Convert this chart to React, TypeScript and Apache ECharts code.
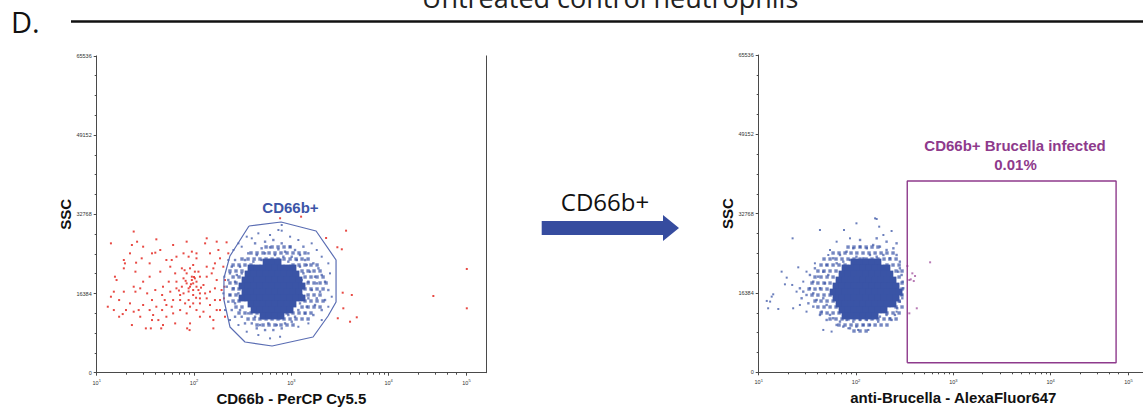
import React, { useEffect, useRef } from "react";
import * as echarts from "echarts";

// ---------- axes ----------
const X_MIN = 10;
const X_MAX = 100000;
const Y_MAX = 65536;
const Y_STEP = 16384;
const xTickValues = [10, 100, 1000, 10000, 63000];
const xTickExponents = ["1", "2", "3", "4", "5"];
const xMinorTicks = [
  20, 30, 40, 50, 60, 70, 80, 90,
  200, 300, 400, 500, 600, 700, 800, 900,
  2000, 3000, 4000, 5000, 6000, 7000, 8000, 9000,
  20000, 30000, 40000, 50000,
];

// ---------- texts ----------
const panelLabel = "D.";
const headerTitle = "Untreated control neutrophils";
const arrowLabel = "CD66b+";
const leftXTitle = "CD66b - PerCP Cy5.5";
const rightXTitle = "anti-Brucella - AlexaFluor647";
const yTitle = "SSC";
const leftGateLabel = "CD66b+";
const rightGateLabel = "CD66b+ Brucella infected";
const rightGatePercent = "0.01%";

// ---------- left plot: CD66b gate (polygon vertices) ----------
const cd66bGate: number[][] = [
  [367, 30350], [784, 31180], [1795, 29320], [2879, 23320], [2879, 14630],
  [2383, 11730], [1671, 7390], [634, 5520], [334, 6350], [234, 9460],
  [203, 15040], [203, 19590], [234, 24150], [367, 30350],
];

// ---------- left plot: ungated (red) events ----------
const leftRedEvents: number[][] = [
  [24, 29200], [14, 26760], [41, 27590], [23, 26420], [26, 27100], [13, 13650], [16, 19170], [17, 11580],
  [18.5, 12130], [23, 9860], [32, 9170], [36, 9170], [46, 9170], [85, 9170], [90, 8820], [158, 9170],
  [37, 10890], [19.5, 22620], [25, 20900], [19, 21590], [25.4, 22760], [29, 23660], [35, 22620], [40, 24830],
  [45, 25380], [37, 24690], [52, 23310], [59, 23310], [57, 21930], [45, 20900], [35, 19860], [30, 18830],
  [28, 17450], [24, 17790], [25, 16760], [19, 16760], [15, 16760], [33, 16410], [37, 15030], [41, 13650],
  [47, 12960], [52, 14000], [61, 15030], [72, 16070], [75, 17790], [66, 18830], [78, 19520], [84, 20550],
  [91, 21590], [98, 22280], [102, 20900], [95, 19170], [106, 18830], [115, 19860], [125, 18140], [115, 16410],
  [98, 16070], [88, 15030], [81, 14340], [91, 13650], [115, 14340], [135, 15380], [146, 16760], [164, 17450],
  [171, 19170], [152, 20550], [135, 21930], [164, 22620], [185, 23660], [178, 25380], [146, 24690], [130, 26760],
  [106, 24690], [95, 25040], [78, 24690], [66, 24000], [171, 27110], [216, 26970], [225, 24690], [200, 21930],
  [208, 19170], [192, 17100], [185, 15030], [171, 12960], [146, 11580], [125, 12620], [106, 12960], [84, 12270],
  [72, 12960], [61, 12270], [52, 11580], [43, 10890], [35, 12960], [30, 14000], [27, 12960], [22, 14340],
  [20, 12960], [17, 15030], [15, 12960], [14, 15720], [15.4, 19860], [19, 23310], [22, 24690], [30, 26070],
  [61, 26420], [84, 27110], [135, 27800], [106, 23660], [88, 24000], [75, 21590], [64, 20550], [55, 18830],
  [48, 17790], [40, 17100], [47, 16070], [57, 16760], [66, 17450], [78, 16410], [88, 17450], [98, 18480],
  [111, 17100], [130, 16410], [146, 14000], [164, 15030], [185, 12960], [205, 17790], [203, 15380], [208, 11580],
  [158, 10890], [91, 10200], [64, 10200], [48, 9860], [28, 11580], [24, 12620], [38, 11930], [115, 11580],
  [135, 19860], [158, 21590], [84, 18480], [72, 15030], [59, 13650], [50, 15030], [98, 14340], [115, 15380],
  [95, 19860], [111, 20900], [102, 19520], [91, 17790], [106, 17790], [98, 17100],
  [82, 19000], [100, 19800], [88, 16800], [105, 15500], [70, 17000], [93, 18300], [80, 21200], [118, 17600],
  [766, 31950], [1259, 32280], [3650, 29380], [2970, 25950], [3300, 25530], [2275, 27870], [3370, 16550],
  [4180, 16080], [3420, 13320], [4010, 10550], [4700, 11460], [3000, 11260], [28770, 15870], [63500, 21460],
  [63500, 13320],
];

// ---------- left plot: CD66b+ (blue) events ----------
// dense core, read row by row: SSC level and the CD66b intensities along it
const leftDenseRows: { ssc: number; cd66b: number[] }[] = [
  { ssc: 22900, cd66b: [550, 634, 730] },
  { ssc: 21660, cd66b: [385, 444, 512, 590, 679, 783, 903, 1040] },
  { ssc: 20420, cd66b: [359, 414, 476, 550, 634, 730, 841, 970, 1117] },
  { ssc: 19180, cd66b: [334, 385, 444, 512, 590, 679, 783, 903, 1040, 1199] },
  { ssc: 17940, cd66b: [311, 359, 414, 476, 550, 634, 730, 841, 970, 1117, 1288] },
  { ssc: 16700, cd66b: [334, 385, 444, 512, 590, 679, 783, 903, 1040, 1199] },
  { ssc: 15450, cd66b: [311, 359, 414, 476, 550, 634, 730, 841, 970, 1117, 1288] },
  { ssc: 14210, cd66b: [385, 444, 512, 590, 679, 783, 903, 1040] },
  { ssc: 12970, cd66b: [414, 476, 550, 634, 730, 841, 970] },
  { ssc: 11730, cd66b: [512, 590, 679, 783] },
];
// medium-density halo around the core
const leftHaloRows: { ssc: number; cd66b: number[] }[] = [
  { ssc: 26010, cd66b: [550, 634, 730, 841, 970] },
  { ssc: 24770, cd66b: [385, 444, 512, 590, 679, 783, 903, 1040, 1199, 1383] },
  { ssc: 23520, cd66b: [311, 359, 414, 476, 550, 634, 730, 841, 970, 1117, 1288, 1486] },
  { ssc: 22280, cd66b: [252, 290, 334, 385, 1040, 1199, 1383, 1592, 1837] },
  { ssc: 21040, cd66b: [234, 270, 311, 1288, 1486, 1710, 1972] },
  { ssc: 19800, cd66b: [252, 290, 1383, 1592, 1837, 2118] },
  { ssc: 18560, cd66b: [234, 270, 1486, 1710, 1972, 2275] },
  { ssc: 17320, cd66b: [252, 290, 1383, 1592, 1837, 2118] },
  { ssc: 16080, cd66b: [234, 270, 1486, 1710, 1972] },
  { ssc: 14830, cd66b: [252, 290, 1383, 1592, 1837, 2118] },
  { ssc: 13590, cd66b: [270, 311, 1288, 1486, 1710, 1972] },
  { ssc: 12350, cd66b: [290, 334, 385, 444, 903, 1040, 1199, 1383, 1592] },
  { ssc: 11110, cd66b: [359, 414, 476, 550, 634, 730, 841, 970, 1117, 1288, 1486] },
  { ssc: 9870, cd66b: [444, 512, 590, 679, 783, 903, 1040] },
];
const leftBlueMid: number[][] = [
  [424, 26760], [537, 27100], [653, 27450], [796, 26760], [971, 26070], [495, 25730], [604, 25930], [736, 25520],
  [861, 25040], [1091, 25380], [361, 24690], [441, 24350], [537, 24690], [679, 24350], [828, 24000], [1009, 24000],
  [1227, 24350], [334, 23310], [407, 22970], [495, 23310], [628, 22970], [766, 23310], [931, 22970], [1135, 23310],
  [1384, 23310], [1496, 24690], [1330, 26070],
  [264, 23310], [244, 21930], [297, 21930], [234, 20550], [275, 20210], [225, 19170], [264, 18830], [309, 20550],
  [217, 17790], [254, 17450], [286, 16410], [234, 16070], [225, 14690], [264, 14340], [297, 12960], [244, 12960],
  [264, 11580], [309, 11580], [334, 10200],
  [1227, 21930], [1439, 22280], [1683, 22620], [1897, 21590], [1330, 20550], [1556, 20900], [1750, 19860], [2051, 20210],
  [1276, 19170], [1496, 18830], [1824, 18480], [2218, 18830], [1330, 17450], [1618, 17100], [1972, 16760], [2399, 17100],
  [1276, 16070], [1496, 15380], [1824, 15380], [2218, 15030], [1227, 14340], [1439, 13650], [1750, 14000], [2051, 12960],
  [1180, 12960], [1384, 12270], [1683, 11930], [1091, 11580],
  [361, 12270], [424, 11580], [516, 11240], [628, 11580], [766, 11240], [931, 11930], [392, 10200], [476, 9860],
  [581, 10200], [708, 9860], [861, 10200], [1009, 10550], [537, 8820], [653, 8820], [796, 9170], [441, 9170],
];
const leftBlueSparse: number[][] = [
  [286, 26760], [348, 28140], [458, 28830], [736, 29520], [796, 29380], [971, 28140], [1180, 27450], [1618, 26760],
  [1824, 25380], [2051, 24000], [2399, 22620], [2495, 20550], [2600, 15720], [2399, 13650], [2051, 10890], [1496, 10200],
  [1180, 9510], [766, 7440], [604, 7100], [458, 7790], [348, 8480], [286, 9860], [234, 10890], [208, 12960],
  [200, 16410], [205, 19860], [225, 23310], [254, 25380], [309, 26070], [392, 27800], [604, 28490], [796, 30560],
];

// ---------- right plot: infected gate (rectangle corners) ----------
const brucellaGate: number[][] = [
  [336, 1980], [47000, 1980], [47000, 39500], [336, 39500], [336, 1980],
];

// ---------- right plot: CD66b+ events on anti-Brucella ----------
const rightDenseRows: { ssc: number; brucella: number[] }[] = [
  { ssc: 22780, brucella: [95.3, 110, 127, 146, 168] },
  { ssc: 21540, brucella: [77.1, 88.9, 102, 118, 136, 157, 181, 208] },
  { ssc: 20300, brucella: [71.8, 82.8, 95.3, 110, 127, 146, 168, 194, 223] },
  { ssc: 19060, brucella: [66.9, 77.1, 88.9, 102, 118, 136, 157, 181, 208, 240] },
  { ssc: 17820, brucella: [62.3, 71.8, 82.8, 95.3, 110, 127, 146, 168, 194, 223, 258] },
  { ssc: 16580, brucella: [58.1, 66.9, 77.1, 88.9, 102, 118, 136, 157, 181, 208, 240, 277] },
  { ssc: 15340, brucella: [62.3, 71.8, 82.8, 95.3, 110, 127, 146, 168, 194, 223, 258] },
  { ssc: 14110, brucella: [66.9, 77.1, 88.9, 102, 118, 136, 157, 181, 208, 240] },
  { ssc: 12870, brucella: [71.8, 82.8, 95.3, 110, 127, 146, 168, 194] },
  { ssc: 11630, brucella: [77.1, 88.9, 102, 118, 136, 157] },
];
const rightHaloRows: { ssc: number; brucella: number[] }[] = [
  { ssc: 25870, brucella: [82.8, 95.3, 110, 127, 146, 168] },
  { ssc: 24640, brucella: [58.1, 66.9, 77.1, 88.9, 102, 118, 136, 157, 181, 208, 240] },
  { ssc: 23400, brucella: [46.9, 54.1, 62.3, 71.8, 82.8, 95.3, 110, 127, 146, 168, 194, 223, 258] },
  { ssc: 22160, brucella: [43.7, 50.4, 58.1, 66.9, 77.1, 208, 240, 277] },
  { ssc: 20920, brucella: [40.6, 46.9, 54.1, 62.3, 258, 297] },
  { ssc: 19680, brucella: [37.9, 43.7, 50.4, 58.1, 277] },
  { ssc: 18440, brucella: [35.3, 40.6, 46.9, 54.1, 297] },
  { ssc: 17200, brucella: [32.9, 37.9, 43.7, 50.4, 297] },
  { ssc: 15960, brucella: [35.3, 40.6, 46.9, 54.1, 297] },
  { ssc: 14720, brucella: [37.9, 43.7, 50.4, 58.1, 277] },
  { ssc: 13490, brucella: [40.6, 46.9, 54.1, 62.3, 258, 297] },
  { ssc: 12250, brucella: [43.7, 50.4, 58.1, 66.9, 77.1, 208, 240, 277] },
  { ssc: 11010, brucella: [54.1, 62.3, 71.8, 82.8, 95.3, 110, 127, 146, 168, 194, 223, 258] },
  { ssc: 9770, brucella: [66.9, 77.1, 88.9, 102, 118, 136, 157, 181, 208] },
  { ssc: 8530, brucella: [95.3, 110, 127] },
];
const rightBlueMid: number[][] = [
  [68.4, 24230], [80, 24920], [93.8, 25610], [110, 25950], [129, 25610], [150, 26290], [176, 25950], [206, 25260],
  [242, 25610], [261, 24230], [223, 23540], [191, 24230], [163, 23880], [139, 24230], [119, 23540], [101, 23880],
  [86.7, 23200], [74, 22850], [63.2, 22510], [58.3, 23540], [282, 22850], [206, 26980], [163, 27670], [110, 27330],
  [261, 26640],
  [49.9, 22170], [46.1, 20790], [40.9, 19760], [36.4, 18730], [33.6, 17350], [31, 15970], [36.4, 16320], [42.6, 17350],
  [48, 18380], [51.9, 20100], [39.4, 14940], [46.1, 15290], [49.9, 13910], [44.4, 12530], [36.4, 13570], [32.4, 14250],
  [28.7, 16660], [33.6, 20100], [37.8, 21480], [54, 11850], [49.9, 10810], [42.6, 11850], [26.5, 17350], [27.6, 15290],
  [282, 21480], [294, 20100], [301, 18730], [306, 17350], [294, 15970], [282, 14600], [265, 13220], [251, 11850],
  [232, 10810], [272, 20790], [299, 15290],
  [58.3, 11160], [68.4, 10470], [80, 10810], [93.8, 10470], [110, 10810], [129, 10810], [150, 11160], [176, 11500],
  [206, 11850], [74, 9440], [86.7, 9090], [101, 9440], [119, 9780], [139, 9780], [63.2, 9780], [169, 10470],
];
const rightBlueSparse: number[][] = [
  [22.3, 27670], [42.6, 29390], [75.2, 29390], [101, 30770], [157, 31800], [163, 31660], [173, 30080], [232, 29180],
  [191, 28360], [25.5, 21680], [17.2, 20790], [19.4, 19550], [18.6, 18170], [22.1, 18040], [15.9, 13080], [13.1, 14600],
  [12.5, 13220], [12.1, 14740], [14.1, 16110], [13.6, 15630], [22.6, 13220], [31, 12530], [46.1, 8750], [56.1, 8410],
  [83.4, 9090], [105, 8750], [134, 8750], [223, 11160], [261, 12530], [51.9, 24230], [37.8, 22510], [31, 20790],
  [28.7, 18730], [24.5, 16660], [26.5, 13910], [54, 25260], [86.7, 27670], [63.2, 26980],
];
const rightInfectedEvents: number[][] = [
  [337, 21950], [379, 20440], [353, 19060], [392, 18850], [365, 19200], [577, 22720], [421, 13220], [353, 12180], [404, 19890],
];

// ---------- styling ----------
const ARIAL = "'Liberation Sans', Arial, Helvetica, sans-serif";
const MYRIAD = "'Open Sans', 'Noto Sans', sans-serif";
const AXIS_COLOR = "#4a4a4a";
const BLUE = "#3a54a6";
const RED = "#e5352f";
const PURPLE = "#8e3a8c";
const GATE_BLUE = "#5a6db3";

const LEFT_GRID = { left: 96.7, top: 55.9, width: 389.3, height: 316.8 };
const RIGHT_GRID = { left: 758.7, top: 55, width: 389.3, height: 317.3 };

function rowsToPoints(rows: { ssc: number; [k: string]: any }[], key: string): number[][] {
  const out: number[][] = [];
  rows.forEach((r) => (r[key] as number[]).forEach((x) => out.push([x, r.ssc])));
  return out;
}

function nearestExponent(v: number): string {
  let best = 0;
  for (let i = 1; i < xTickValues.length; i++) {
    if (Math.abs(Math.log10(v / xTickValues[i])) < Math.abs(Math.log10(v / xTickValues[best]))) best = i;
  }
  return xTickExponents[best];
}

function mainXAxis(gridIndex: number, name: string) {
  return {
    type: "log",
    logBase: 10,
    gridIndex,
    min: X_MIN,
    max: X_MAX,
    position: "bottom",
    name,
    nameLocation: "middle",
    nameGap: 15,
    nameTextStyle: { fontFamily: ARIAL, fontWeight: "bold", fontSize: 15, color: "#111" },
    axisLine: { show: true, onZero: false, lineStyle: { color: AXIS_COLOR, width: 1 } },
    axisTick: { show: true, length: 3, customValues: xTickValues, lineStyle: { color: AXIS_COLOR } },
    axisLabel: {
      show: true,
      customValues: xTickValues,
      margin: 6,
      fontSize: 5.5,
      color: "#333",
      fontFamily: ARIAL,
      formatter: (v: number) => "10{s|" + nearestExponent(v) + "}",
      rich: { s: { fontSize: 4, color: "#333", fontFamily: ARIAL, padding: [0, 0, 4, 0] } },
    },
    splitLine: { show: false },
  };
}

function minorXAxis(gridIndex: number) {
  return {
    type: "log",
    logBase: 10,
    gridIndex,
    min: X_MIN,
    max: X_MAX,
    position: "bottom",
    axisLine: { show: false, onZero: false },
    axisTick: { show: true, length: 2, customValues: xMinorTicks, lineStyle: { color: AXIS_COLOR } },
    axisLabel: { show: false },
    splitLine: { show: false },
  };
}

function mainYAxis(gridIndex: number) {
  return {
    type: "value",
    gridIndex,
    min: 0,
    max: Y_MAX,
    interval: Y_STEP,
    position: "left",
    name: yTitle,
    nameLocation: "middle",
    nameGap: 23,
    nameRotate: 90,
    nameTextStyle: { fontFamily: ARIAL, fontWeight: "bold", fontSize: 15, color: "#111" },
    axisLine: { show: true, onZero: false, lineStyle: { color: AXIS_COLOR, width: 1 } },
    axisTick: { show: true, length: 3, lineStyle: { color: AXIS_COLOR } },
    minorTick: { show: true, splitNumber: 4, length: 2, lineStyle: { color: AXIS_COLOR } },
    axisLabel: { fontSize: 5.5, color: "#333", margin: 5, fontFamily: ARIAL, formatter: (v: number) => String(v) },
    splitLine: { show: false },
  };
}

function borderYAxis(gridIndex: number) {
  return {
    type: "value",
    gridIndex,
    min: 0,
    max: Y_MAX,
    position: "right",
    axisLine: { show: true, onZero: false, lineStyle: { color: AXIS_COLOR, width: 1 } },
    axisTick: { show: false },
    axisLabel: { show: false },
    splitLine: { show: false },
  };
}

function dots(data: number[][], xi: number, yi: number, color: string, size: number, opacity: number) {
  return {
    type: "scatter",
    xAxisIndex: xi,
    yAxisIndex: yi,
    data,
    symbol: "rect",
    symbolSize: size,
    silent: true,
    itemStyle: { color, opacity },
  };
}

function gateLine(data: number[][], xi: number, yi: number, color: string, width: number) {
  return {
    type: "line",
    xAxisIndex: xi,
    yAxisIndex: yi,
    data,
    symbol: "none",
    silent: true,
    z: 5,
    lineStyle: { color, width },
  };
}

export default function App() {
  const ref = useRef<HTMLDivElement>(null);

  useEffect(() => {
    if (!ref.current) return;
    const chart = echarts.init(ref.current, null, { renderer: "svg" });
    const option: any = {
      animation: false,
      backgroundColor: "#ffffff",
      grid: [
        { ...LEFT_GRID, containLabel: false, outerBoundsMode: "none" },
        { ...RIGHT_GRID, containLabel: false, outerBoundsMode: "none" },
      ],
      xAxis: [mainXAxis(0, leftXTitle), minorXAxis(0), mainXAxis(1, rightXTitle), minorXAxis(1)],
      yAxis: [mainYAxis(0), borderYAxis(0), mainYAxis(1), borderYAxis(1)],
      series: [
        dots(leftRedEvents, 0, 0, RED, 2, 0.9),
        dots(rowsToPoints(leftHaloRows, "cd66b"), 0, 0, BLUE, 3.4, 0.7),
        dots(leftBlueMid, 0, 0, BLUE, 2.4, 0.7),
        dots(leftBlueSparse, 0, 0, BLUE, 2, 0.75),
        dots(rowsToPoints(leftDenseRows, "cd66b"), 0, 0, BLUE, 6.8, 1),
        gateLine(cd66bGate, 0, 0, GATE_BLUE, 1.2),
        dots(rowsToPoints(rightHaloRows, "brucella"), 2, 2, BLUE, 3.4, 0.7),
        dots(rightBlueMid, 2, 2, BLUE, 2.4, 0.7),
        dots(rightBlueSparse, 2, 2, BLUE, 2, 0.75),
        dots(rowsToPoints(rightDenseRows, "brucella"), 2, 2, BLUE, 6.8, 1),
        dots(rightInfectedEvents, 2, 2, "#a65aa2", 2, 0.8),
        gateLine(brucellaGate, 2, 2, PURPLE, 1.4),
      ],
      graphic: [
        {
          type: "text", x: 610, y: -3,
          style: { text: headerTitle, font: `27px ${MYRIAD}`, fill: "#222", textAlign: "center", textVerticalAlign: "middle" },
        },
        {
          type: "text", x: 11, y: 21,
          style: { text: panelLabel, font: `29px ${MYRIAD}`, fill: "#111", textAlign: "left", textVerticalAlign: "middle" },
        },
        {
          type: "line",
          shape: { x1: 71, y1: 21.5, x2: 1143, y2: 21.5 },
          style: { stroke: "#111", lineWidth: 2.5 },
        },
        {
          type: "polygon",
          shape: { points: [[541.7, 221], [663, 221], [663, 215], [679, 228], [663, 241], [663, 235], [541.7, 235]] },
          style: { fill: "#364c9f" },
        },
        {
          type: "text", x: 605, y: 201,
          style: { text: arrowLabel, font: `24px ${MYRIAD}`, fill: "#111", textAlign: "center", textVerticalAlign: "middle" },
        },
        {
          type: "text", x: 290.5, y: 207,
          style: { text: leftGateLabel, font: `bold 15px ${ARIAL}`, fill: "#3c55a8", textAlign: "center", textVerticalAlign: "middle" },
        },
        {
          type: "text", x: 1015, y: 145.5,
          style: { text: rightGateLabel, font: `bold 15px ${ARIAL}`, fill: PURPLE, textAlign: "center", textVerticalAlign: "middle" },
        },
        {
          type: "text", x: 1015.5, y: 164,
          style: { text: rightGatePercent, font: `bold 15px ${ARIAL}`, fill: PURPLE, textAlign: "center", textVerticalAlign: "middle" },
        },
      ],
    };
    chart.setOption(option);
    return () => chart.dispose();
  }, []);

  return (
    <div
      ref={ref}
      style={{ position: "absolute", left: 0, top: 0, width: 1143, height: 408, background: "#fff" }}
    />
  );
}
